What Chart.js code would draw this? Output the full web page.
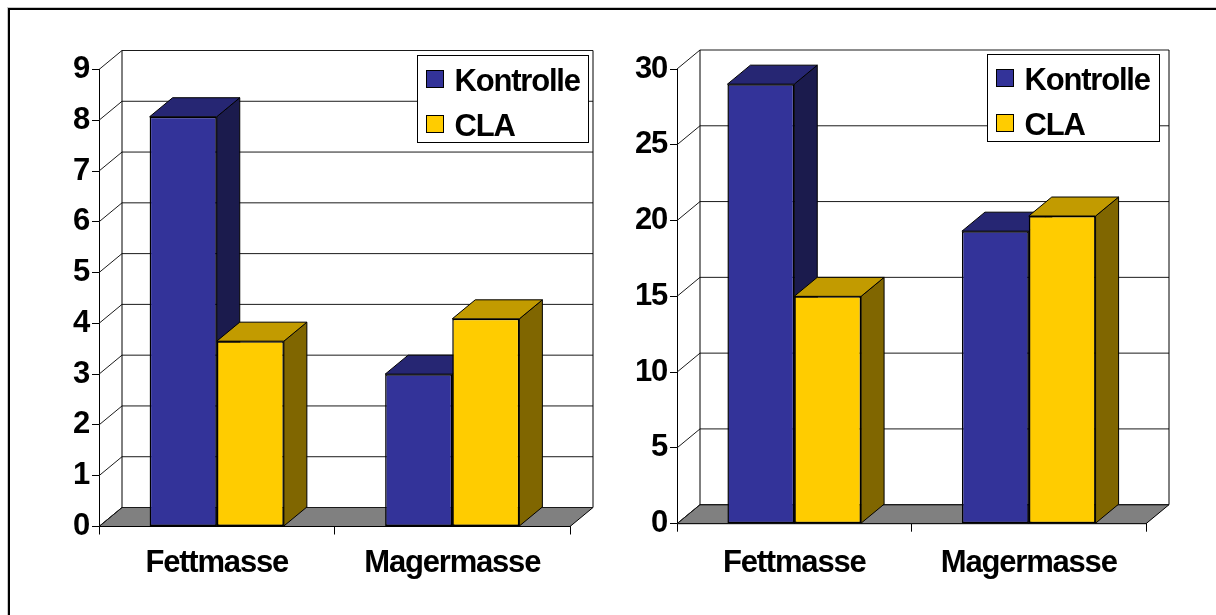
<!DOCTYPE html>
<html>
<head>
<meta charset="utf-8">
<script src="https://cdn.jsdelivr.net/npm/chart.js@4.4.0/dist/chart.umd.min.js"></script>
<style>
  html, body { margin: 0; padding: 0; background: #fff; width: 1216px; height: 615px; overflow: hidden; }
  #frame { position: absolute; left: 8px; top: 8px; width: 1230px; height: 630px;
           border-top: 2px solid #000; border-left: 2px solid #000; box-shadow: -1px -1px 0 #c8c8c8; }
  .panel { position: absolute; top: 0; width: 608px; height: 615px; }
</style>
</head>
<body>
<div id="frame"></div>
<div class="panel" style="left:0"><canvas id="chartLeft" width="608" height="615"></canvas></div>
<div class="panel" style="left:608px"><canvas id="chartRight" width="608" height="615"></canvas></div>
<script>
// Categories and series
const categories = ['Fettmasse', 'Magermasse'];
const seriesNames = ['Kontrolle', 'CLA'];

// Left panel
const leftKontrolle = [8.07, 3.0];
const leftCLA = [3.65, 4.09];
const leftTicks = [0, 1, 2, 3, 4, 5, 6, 7, 8, 9];

// Right panel
const rightKontrolle = [29.0, 19.3];
const rightCLA = [15.0, 20.3];
const rightTicks = [0, 5, 10, 15, 20, 25, 30];

const FONT = "'Liberation Sans', Arial, sans-serif";
const TEXT_SIZE = 31;
const TEXT_SPACING = '-1.2px';
Chart.defaults.font.family = FONT;
Chart.defaults.color = '#000';

const FRONT = ['#333399', '#FFCC00'];
const TOPFACE = ['#262673', '#C29B00'];
const SIDEFACE = ['#1B1B4D', '#806600'];

// Tight letter spacing for all chart text
const tightText = {
  id: 'tightText',
  beforeDraw(chart) { chart.ctx.letterSpacing = TEXT_SPACING; }
};

// Walls, floor and the depth faces of the columns
const box3d = {
  id: 'box3d',
  beforeDatasetsDraw(chart, args, o) {
    const { ctx } = chart;
    const { left: L, right: R, top: T, bottom: B } = chart.chartArea;
    const dx = o.dx, dy = o.dy;
    const ys = chart.scales.y;
    ctx.save();
    ctx.lineWidth = 1;
    ctx.strokeStyle = '#000';

    // floor
    ctx.beginPath();
    ctx.moveTo(L, B); ctx.lineTo(R, B); ctx.lineTo(R + dx, B + dy); ctx.lineTo(L + dx, B + dy);
    ctx.closePath();
    ctx.fillStyle = '#808080';
    ctx.fill();
    ctx.stroke();

    // side wall diagonals + back wall gridlines
    ctx.strokeStyle = '#1a1a1a';
    ys.ticks.forEach(t => {
      const y = ys.getPixelForValue(t.value);
      ctx.beginPath();
      ctx.moveTo(L, y);
      ctx.lineTo(L + dx, y + dy);
      ctx.lineTo(R + dx, y + dy);
      ctx.stroke();
    });

    // back wall edges
    ctx.strokeStyle = '#000';
    ctx.beginPath();
    ctx.moveTo(L + dx, T + dy); ctx.lineTo(L + dx, B + dy);
    ctx.moveTo(R + dx, T + dy); ctx.lineTo(R + dx, B + dy);
    ctx.stroke();

    // column tops and right sides, left to right
    const n = chart.data.labels.length;
    for (let j = 0; j < n; j++) {
      chart.data.datasets.forEach((ds, i) => {
        const bar = chart.getDatasetMeta(i).data[j];
        const p = bar.getProps(['x', 'y', 'base', 'width'], true);
        const xl = p.x - p.width / 2, xr = p.x + p.width / 2;
        // right side
        ctx.beginPath();
        ctx.moveTo(xr, p.y); ctx.lineTo(xr + dx, p.y + dy);
        ctx.lineTo(xr + dx, p.base + dy); ctx.lineTo(xr, p.base);
        ctx.closePath();
        ctx.fillStyle = ds.faceSide;
        ctx.fill(); ctx.stroke();
        // top
        ctx.beginPath();
        ctx.moveTo(xl, p.y); ctx.lineTo(xl + dx, p.y + dy);
        ctx.lineTo(xr + dx, p.y + dy); ctx.lineTo(xr, p.y);
        ctx.closePath();
        ctx.fillStyle = ds.faceTop;
        ctx.fill(); ctx.stroke();
      });
    }
    ctx.restore();
  }
};

// Boxed legend inside the plot
const boxLegend = {
  id: 'boxLegend',
  afterDraw(chart, args, o) {
    const { ctx } = chart;
    ctx.save();
    ctx.fillStyle = '#fff';
    ctx.fillRect(o.x, o.y, o.w, o.h);
    ctx.strokeStyle = '#000';
    ctx.lineWidth = 1;
    ctx.strokeRect(o.x, o.y, o.w, o.h);
    ctx.font = 'bold ' + TEXT_SIZE + 'px ' + FONT;
    ctx.letterSpacing = TEXT_SPACING;
    ctx.textBaseline = 'alphabetic';
    ctx.textAlign = 'left';
    chart.data.datasets.forEach((ds, i) => {
      const sy = o.y + 15 + i * 45;
      ctx.fillStyle = ds.backgroundColor;
      ctx.fillRect(o.x + 9, sy, 17, 17);
      ctx.strokeRect(o.x + 9, sy, 17, 17);
      ctx.fillStyle = '#000';
      ctx.fillText(ds.label, o.x + 37, o.y + 35.5 + i * 45);
    });
    ctx.restore();
  }
};

function makeChart(id, kontrolle, cla, ticks, g) {
  const series = [kontrolle, cla];
  return new Chart(document.getElementById(id), {
    type: 'bar',
    data: {
      labels: categories,
      datasets: series.map((d, i) => ({
        label: seriesNames[i],
        data: d,
        backgroundColor: FRONT[i],
        borderColor: '#000',
        borderWidth: 1.5,
        borderSkipped: false,
        faceTop: TOPFACE[i],
        faceSide: SIDEFACE[i]
      }))
    },
    options: {
      responsive: false,
      animation: false,
      devicePixelRatio: 1,
      layout: { padding: { left: 0, right: g.padRight, top: g.padTop, bottom: g.padBottom } },
      datasets: { bar: { categoryPercentage: 0.57, barPercentage: 1 } },
      plugins: {
        legend: { display: false },
        tooltip: { enabled: false },
        box3d: { dx: 23, dy: -19 },
        boxLegend: g.legend
      },
      scales: {
        x: {
          offset: true,
          grid: { offset: true, drawOnChartArea: false, tickLength: 8, color: '#000', lineWidth: 1 },
          border: { color: '#000', width: 1 },
          ticks: { font: { size: TEXT_SIZE, weight: 'bold' }, color: '#000', padding: g.xPad, maxRotation: 0 },
          afterFit(s) { s.height = 60; }
        },
        y: {
          min: ticks[0],
          max: ticks[ticks.length - 1],
          afterBuildTicks(s) { s.ticks = ticks.map(v => ({ value: v })); },
          grid: { drawOnChartArea: false, tickLength: 7, color: '#000', lineWidth: 1 },
          border: { color: '#000', width: 1 },
          ticks: { font: { size: TEXT_SIZE, weight: 'bold' }, color: '#000', padding: 3 },
          afterFit(s) { s.width = g.yWidth; }
        }
      }
    },
    plugins: [tightText, box3d, boxLegend]
  });
}

makeChart('chartLeft', leftKontrolle, leftCLA, leftTicks, {
  yWidth: 99, padRight: 38, padTop: 69.5, padBottom: 28.5, xPad: 10,
  legend: { x: 417.5, y: 55.5, w: 171, h: 87 }
});
makeChart('chartRight', rightKontrolle, rightCLA, rightTicks, {
  yWidth: 69, padRight: 70, padTop: 69, padBottom: 31.3, xPad: 13,
  legend: { x: 379.5, y: 54.5, w: 172, h: 87 }
});
</script>
</body>
</html>
